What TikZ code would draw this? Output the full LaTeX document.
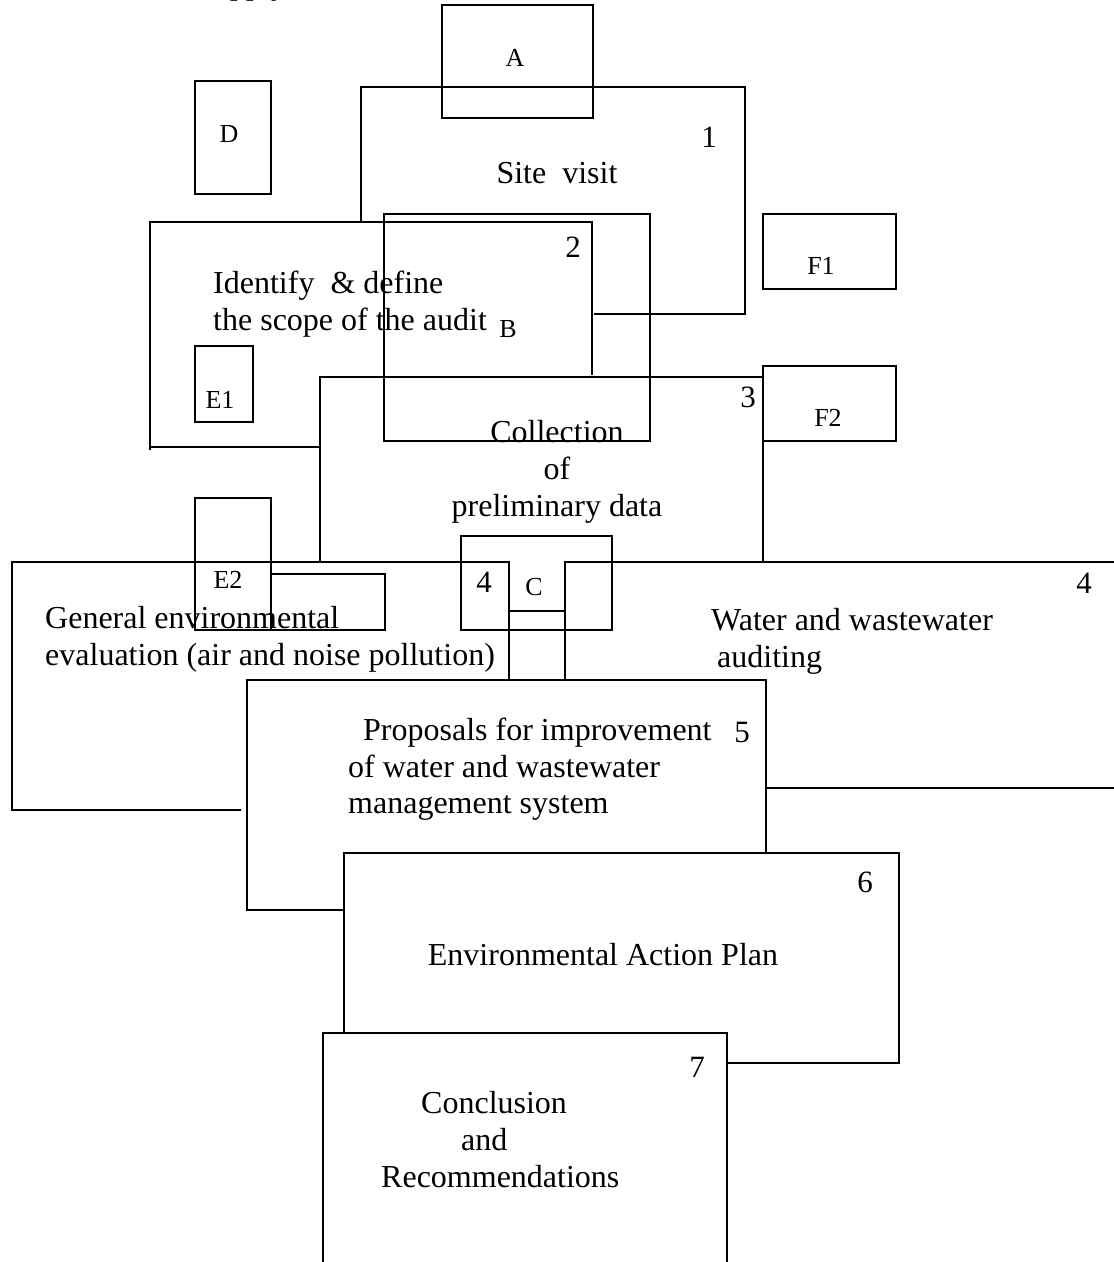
\documentclass[tikz,border=0pt]{standalone}
\usepackage{fontspec}
\setmainfont{Liberation Serif}
\begin{document}
\begin{tikzpicture}[x=1pt,y=-1pt,
  frame/.style={line width=2.9pt, line join=miter},
  main/.style={font=\fontsize{32}{37}\selectfont, inner sep=0pt},
  num/.style={font=\fontsize{31}{36}\selectfont, inner sep=0pt},
  tag/.style={font=\fontsize{26}{30}\selectfont, inner sep=0pt}]
\useasboundingbox (0,0) rectangle (1114,1262);
\clip (0,0) rectangle (1114,1262);

% line of text running off the top edge
\node[main, anchor=base west] (toptext) at (196,-5.2) {Supply};

% small lettered boxes
\draw[frame] (442,5) rectangle (593,118);
\node[tag] (lblA) at (515,58) {A};
\draw[frame] (195,81) rectangle (271,194);
\node[tag] (lblD) at (229,134) {D};
\draw[frame] (384,214) rectangle (650,441);
\node[tag] (lblB) at (508,329) {B};
\draw[frame] (195,346) rectangle (253,422);
\node[tag] (lblEa) at (220,400) {E1};
\draw[frame] (763,214) rectangle (896,289);
\node[tag] (lblFa) at (821,266) {F1};
\draw[frame] (763,366) rectangle (896,441);
\node[tag] (lblFb) at (828,418) {F2};
\draw[frame] (195,498) rectangle (271,630);
\draw[frame] (271,574) rectangle (385,630);
\node[tag] (lblEb) at (228,580) {E2};
\draw[frame] (461,536) rectangle (612,630);
\node[tag] (lblC) at (534,587) {C};

% step 1: site visit
\draw[frame] (361,222) -- (361,87) -- (745,87) -- (745,314) -- (594,314);
\node[num] (n1) at (709,137) {1};
\node[main, anchor=base] (site) at (557,183) {Site~~visit};

% step 2: scope of the audit
\draw[frame] (592,375) -- (592,222) -- (150,222) -- (150,450);
\draw[frame] (150,447) -- (321,447);
\node[num] (n2) at (573,247) {2};
\node[main, anchor=base west] (scopeA) at (213,293) {Identify~~\& define};
\node[main, anchor=base west] (scopeB) at (213,330) {the scope of the audit};

% step 3: preliminary data
\draw[frame] (320,562) -- (320,377) -- (763,377) -- (763,562);
\node[num] (n3) at (748,397) {3};
\node[main, anchor=base] (collA) at (557,442) {Collection};
\node[main, anchor=base] (collB) at (557,479) {of};
\node[main, anchor=base] (collC) at (557,516) {preliminary data};

% step 4: general environmental evaluation
\draw[frame] (241,810) -- (12,810) -- (12,562) -- (509,562) -- (509,680);
\node[num] (n4a) at (484,582) {4};
\node[main, anchor=base west] (genA) at (45,628) {General environmental};
\node[main, anchor=base west] (genB) at (45,665) {evaluation (air and noise pollution)};

% link between the two step-4 boxes
\draw[frame] (509,611) -- (565,611);

% step 4: water and wastewater auditing
\draw[frame] (565,680) -- (565,562) -- (1120,562);
\draw[frame] (766,788) -- (1120,788);
\node[num] (n4b) at (1084,583) {4};
\node[main, anchor=base west] (watA) at (711,630) {Water and wastewater};
\node[main, anchor=base west] (watB) at (717,667) {auditing};

% step 5: proposals
\draw[frame] (344,910) -- (247,910) -- (247,680) -- (766,680) -- (766,853);
\node[num] (n5) at (742,732) {5};
\node[main, anchor=base west] (propA) at (363,740) {Proposals for improvement};
\node[main, anchor=base west] (propB) at (348,777) {of water and wastewater};
\node[main, anchor=base west] (propC) at (348,813) {management system};

% step 6: action plan
\draw[frame] (344,1033) -- (344,853) -- (899,853) -- (899,1063) -- (727,1063);
\node[num] (n6) at (865,882) {6};
\node[main, anchor=base] (plan) at (603,965) {Environmental Action Plan};

% step 7: conclusions
\draw[frame] (323,1270) -- (323,1033) -- (727,1033) -- (727,1270);
\node[num] (n7) at (697,1067) {7};
\node[main, anchor=base west] (concA) at (421,1113) {Conclusion};
\node[main, anchor=base west] (concB) at (461,1150) {and};
\node[main, anchor=base west] (concC) at (381,1187) {Recommendations};
\end{tikzpicture}
\end{document}
